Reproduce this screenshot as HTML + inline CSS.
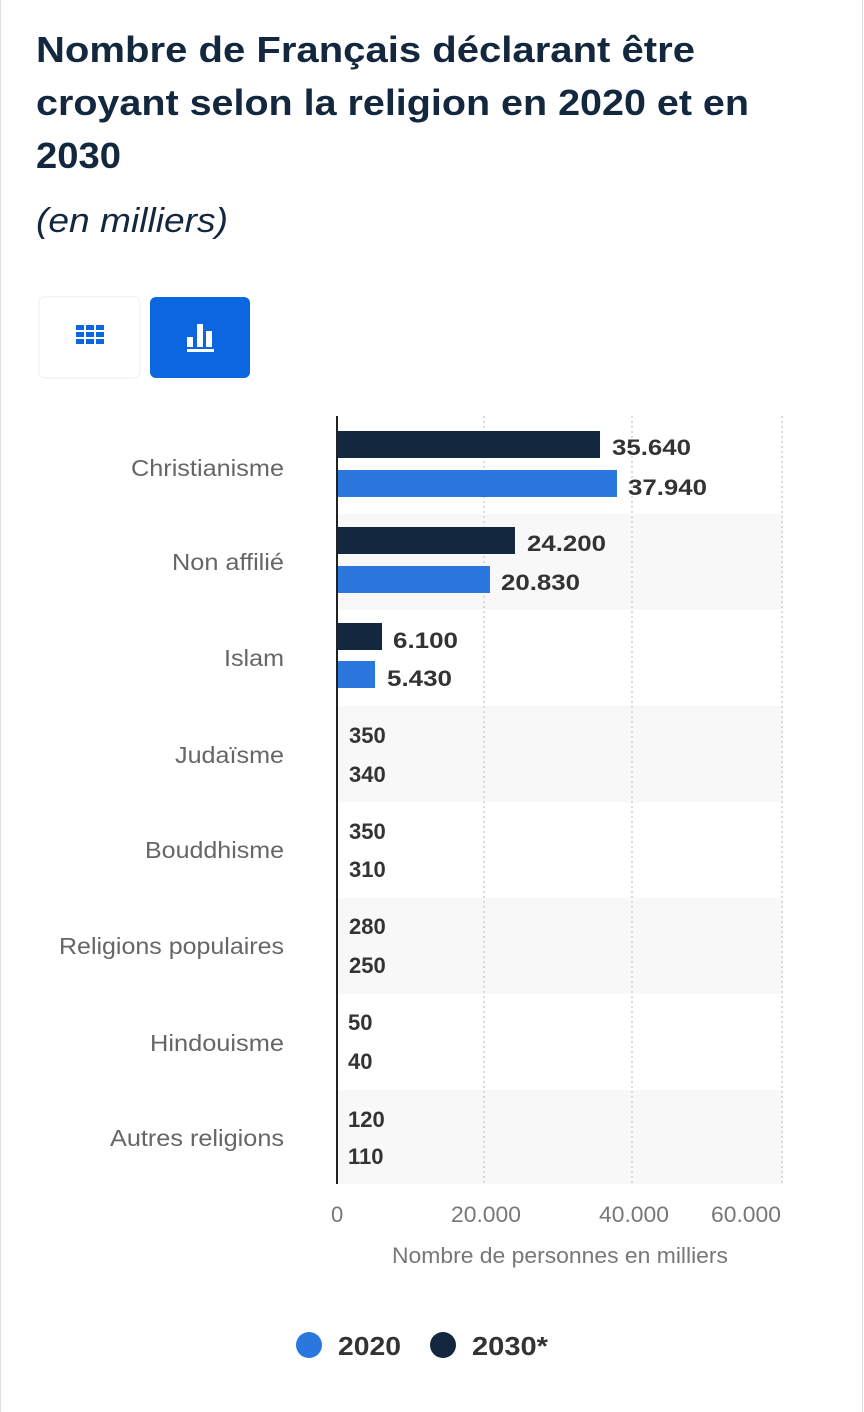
<!DOCTYPE html>
<html><head><meta charset="utf-8"><style>
html,body{margin:0;padding:0;background:#fff;}
svg{display:block;}
</style></head><body>
<svg width="864" height="1412" xmlns="http://www.w3.org/2000/svg" font-family="Liberation Sans, sans-serif">
<rect x="0" y="0" width="864" height="1412" fill="#fff"/>
<line x1="0.5" y1="0" x2="0.5" y2="1412" stroke="#e0e0e0"/>
<line x1="862.5" y1="0" x2="862.5" y2="1412" stroke="#e0e0e0"/>
<g fill="#13273f" font-weight="bold" font-size="36">
<text x="36" y="62" textLength="659" lengthAdjust="spacingAndGlyphs">Nombre de Français déclarant être</text>
<text x="36" y="115" textLength="713" lengthAdjust="spacingAndGlyphs">croyant selon la religion en 2020 et en</text>
<text x="36" y="168" textLength="85" lengthAdjust="spacingAndGlyphs">2030</text>
</g>
<text x="36" y="232" fill="#13273f" font-size="34" font-style="italic" textLength="192" lengthAdjust="spacingAndGlyphs">(en milliers)</text>
<rect x="39" y="297" width="101" height="81" rx="6" fill="#fff" stroke="#eee"/>
<g fill="#0a67e0">
<rect x="76" y="325" width="8" height="5"/><rect x="86" y="325" width="8" height="5"/><rect x="96" y="325" width="8" height="5"/>
<rect x="76" y="332" width="8" height="5"/><rect x="86" y="332" width="8" height="5"/><rect x="96" y="332" width="8" height="5"/>
<rect x="76" y="339" width="8" height="5"/><rect x="86" y="339" width="8" height="5"/><rect x="96" y="339" width="8" height="5"/>
</g>
<rect x="150" y="297" width="100" height="81" rx="6" fill="#0a67e0"/>
<g fill="#fff"><rect x="187" y="337" width="6" height="10"/><rect x="197" y="324" width="6" height="23"/><rect x="206" y="331" width="6" height="16"/><rect x="187" y="349" width="27" height="3"/></g>
<g fill="#f8f8f8">
<rect x="337" y="514" width="446" height="96"/>
<rect x="337" y="706" width="446" height="96"/>
<rect x="337" y="898" width="446" height="96"/>
<rect x="337" y="1090" width="446" height="94"/>
</g>
<g stroke="#cfcfcf" stroke-width="1.5" stroke-dasharray="2,3">
<line x1="484" y1="416" x2="484" y2="1184"/>
<line x1="632" y1="416" x2="632" y2="1184"/>
<line x1="782" y1="416" x2="782" y2="1184"/>
</g>
<g fill="#13273f">
<rect x="337" y="431" width="263" height="27"/>
<rect x="337" y="527" width="178" height="27"/>
<rect x="337" y="623" width="45" height="27"/>
</g>
<g fill="#2a77de">
<rect x="337" y="470" width="280" height="27"/>
<rect x="337" y="566" width="153" height="27"/>
<rect x="337" y="661" width="38" height="27"/>
</g>
<line x1="337" y1="416" x2="337" y2="1184" stroke="#222" stroke-width="2"/>
<g fill="#333" font-weight="bold" font-size="22">
<text x="612" y="455" textLength="79" lengthAdjust="spacingAndGlyphs">35.640</text><text x="628" y="495" textLength="79" lengthAdjust="spacingAndGlyphs">37.940</text>
<text x="527" y="551" textLength="79" lengthAdjust="spacingAndGlyphs">24.200</text><text x="501" y="590" textLength="79" lengthAdjust="spacingAndGlyphs">20.830</text>
<text x="393" y="648" textLength="65" lengthAdjust="spacingAndGlyphs">6.100</text><text x="387" y="686" textLength="65" lengthAdjust="spacingAndGlyphs">5.430</text>
<text x="349" y="743">350</text><text x="349" y="782">340</text>
<text x="349" y="839">350</text><text x="349" y="877">310</text>
<text x="349" y="934">280</text><text x="349" y="973">250</text>
<text x="348" y="1030">50</text><text x="348" y="1069">40</text>
<text x="348" y="1127">120</text><text x="348" y="1164">110</text>
</g>
<g fill="#666" font-size="23">
<text x="131" y="476" textLength="153" lengthAdjust="spacingAndGlyphs">Christianisme</text>
<text x="172" y="570" textLength="112" lengthAdjust="spacingAndGlyphs">Non affilié</text>
<text x="224" y="666" textLength="60" lengthAdjust="spacingAndGlyphs">Islam</text>
<text x="175" y="763" textLength="109" lengthAdjust="spacingAndGlyphs">Judaïsme</text>
<text x="145" y="858" textLength="139" lengthAdjust="spacingAndGlyphs">Bouddhisme</text>
<text x="59" y="954" textLength="225" lengthAdjust="spacingAndGlyphs">Religions populaires</text>
<text x="150" y="1051" textLength="134" lengthAdjust="spacingAndGlyphs">Hindouisme</text>
<text x="110" y="1146" textLength="174" lengthAdjust="spacingAndGlyphs">Autres religions</text>
</g>
<g fill="#777" font-size="22">
<text x="331" y="1222">0</text>
<text x="451" y="1222" textLength="70" lengthAdjust="spacingAndGlyphs">20.000</text>
<text x="599" y="1222" textLength="70" lengthAdjust="spacingAndGlyphs">40.000</text>
<text x="711" y="1222" textLength="70" lengthAdjust="spacingAndGlyphs">60.000</text>
</g>
<text x="392" y="1263" fill="#777" font-size="22" textLength="336" lengthAdjust="spacingAndGlyphs">Nombre de personnes en milliers</text>
<circle cx="309" cy="1345" r="13" fill="#2a77de"/>
<text x="338" y="1355" fill="#333" font-size="26" font-weight="bold" textLength="63" lengthAdjust="spacingAndGlyphs">2020</text>
<circle cx="443" cy="1345" r="13" fill="#13273f"/>
<text x="472" y="1355" fill="#333" font-size="26" font-weight="bold" textLength="76" lengthAdjust="spacingAndGlyphs">2030*</text>
</svg>
</body></html>
